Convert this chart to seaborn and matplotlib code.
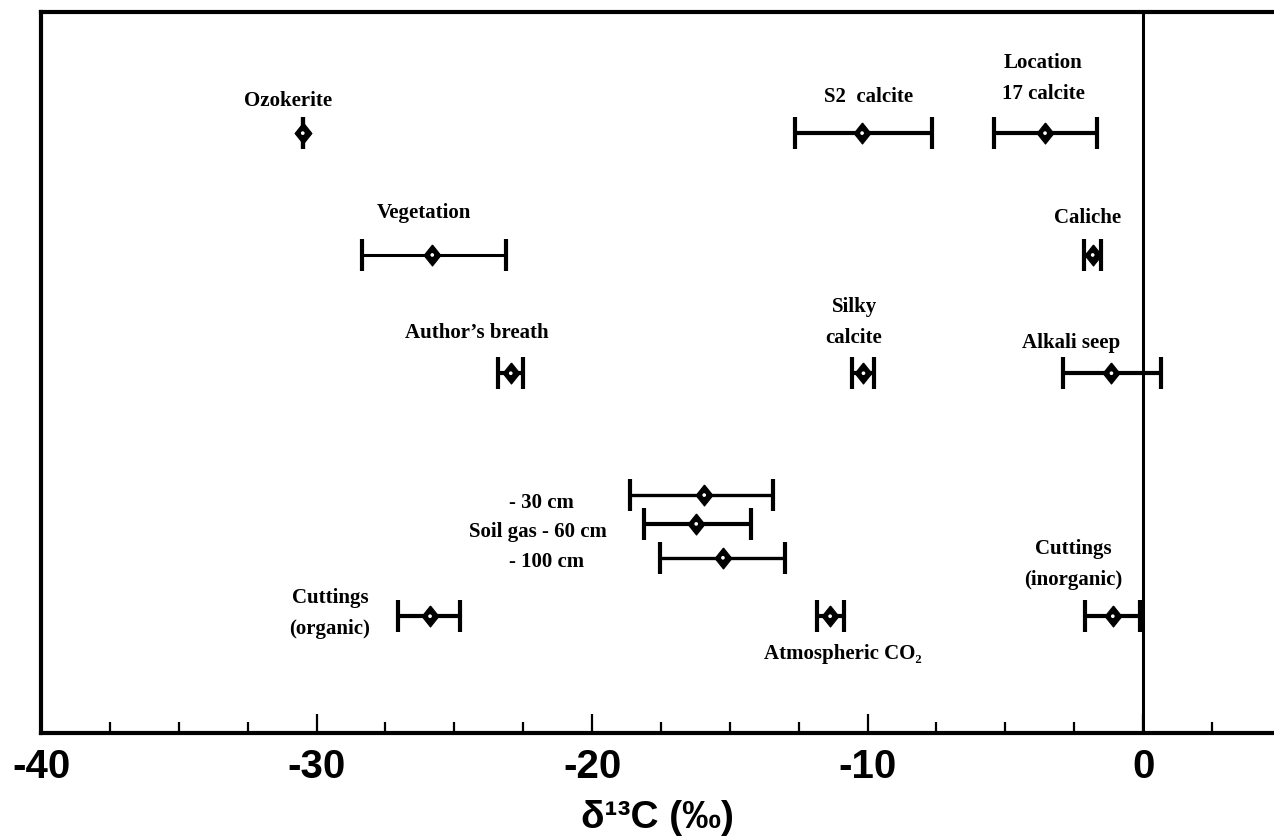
import numpy as np
import pandas as pd
import matplotlib
matplotlib.use("Agg")
import matplotlib.pyplot as plt
import seaborn as sns

# ---- data ----
samples = ["Ozokerite", "S2 calcite", "Location 17 calcite", "Vegetation", "Caliche",
           "Author's breath", "Silky calcite", "Alkali seep", "Soil gas 30 cm",
           "Soil gas 60 cm", "Soil gas 100 cm", "Cuttings (organic)", "Atmospheric CO2",
           "Cuttings (inorganic)"]
d13c_mean = [-30.5, -10.2, -3.56, -25.8, -1.83, -22.95, -10.15, -1.15, -15.93, -16.22,
             -15.25, -25.88, -11.36, -1.1]
d13c_low = [-30.5, -12.65, -5.42, -28.35, -2.14, -23.42, -10.55, -2.91, -18.62, -18.13,
            -17.53, -27.04, -11.85, -2.12]
d13c_high = [-30.5, -7.68, -1.68, -23.14, -1.52, -22.5, -9.75, 0.64, -13.43, -14.24,
             -13.0, -24.8, -10.85, -0.12]
row_level = [8.32, 8.32, 8.32, 6.63, 6.63, 4.99, 4.99, 4.99, 3.30, 2.90, 2.43, 1.62, 1.62, 1.62]

label_texts = ["Ozokerite", "S2  calcite", "Location\n17 calcite", "Vegetation", "Caliche",
               "Author\u2019s breath", "Silky\ncalcite", "Alkali seep", "- 30 cm",
               "Soil gas - 60 cm", "- 100 cm", "Cuttings\n(organic)", "Atmospheric CO\u2082",
               "Cuttings\n(inorganic)"]

x_ticks_major = [-40, -30, -20, -10, 0]
x_tick_labels = ["-40", "-30", "-20", "-10", "0"]

# ---- label placement (layout, not data) ----
label_x = [-31.03, -9.98, -3.63, -26.1, -2.0, -24.17, -10.49, -2.61, -23.01, -19.46,
           -23.01, -29.51, -10.89, -2.54]
label_y = [8.77, 8.82, 9.08, 7.21, 7.14, 5.55, 5.69, 5.41, 3.19, 2.79, 2.37, 1.66, 1.10, 2.34]
label_ha = ["center"] * 8 + ["left", "right", "left"] + ["center"] * 3
bar_lw = [3, 3, 3, 2.2, 3, 3, 3, 3, 2.4, 3, 2.4, 3, 3, 3]

df = pd.DataFrame({"sample": samples, "mean": d13c_mean, "low": d13c_low,
                   "high": d13c_high, "row": row_level})

sns.set_theme(style="white")
plt.rcParams["font.family"] = ["Liberation Sans", "DejaVu Sans"]

fig = plt.figure(figsize=(12.74, 8.39), dpi=100)
ax = fig.add_axes([41 / 1274, (839 - 733) / 839, (1274 - 41) / 1274, (733 - 12) / 839])

# vertical zero line
ax.axvline(0, color="black", lw=2.2, zorder=1)

# error bars
for i, r in df.iterrows():
    ax.errorbar(r["mean"], r["row"],
                xerr=[[r["mean"] - r["low"]], [r["high"] - r["mean"]]],
                fmt="none", ecolor="black", elinewidth=bar_lw[i],
                capsize=11.5, capthick=3, zorder=2)

# diamonds: black body with a small white centre
diamond = [(0, 1), (0.8, 0), (0, -1), (-0.8, 0), (0, 1)]
sns.scatterplot(data=df, x="mean", y="row", marker=diamond, s=230, color="black",
                edgecolor="black", linewidth=0.8, zorder=3, ax=ax, legend=False)
sns.scatterplot(data=df, x="mean", y="row", marker="o", s=7, color="white",
                edgecolor="none", linewidth=0, zorder=4, ax=ax, legend=False)

# labels
for t, lx, ly, ha in zip(label_texts, label_x, label_y, label_ha):
    ax.text(lx, ly, t, ha=ha, va="center", fontsize=15, fontweight="bold",
            family=["Liberation Serif", "DejaVu Serif"], linespacing=1.75, color="black")

ax.set_xlim(-40, 4.75)
ax.set_ylim(0, 10)
ax.set_xticks(x_ticks_major)
ax.set_xticklabels(x_tick_labels)
ax.set_xticks(np.arange(-37.5, 4.0, 2.5), minor=True)
ax.set_yticks([])
ax.tick_params(axis="x", which="major", direction="in", length=14, width=1.6,
               labelsize=29, pad=11, color="black", labelcolor="black", bottom=True)
ax.tick_params(axis="x", which="minor", direction="in", length=8, width=1.6,
               color="black", bottom=True)
for lab in ax.get_xticklabels():
    lab.set_fontweight("bold")

ax.set_xlabel("\u03b4\u00b9\u00b3C (\u2030)", fontsize=28, fontweight="bold",
              labelpad=10, color="black")
ax.set_ylabel("")

for side in ["left", "top", "bottom"]:
    ax.spines[side].set_visible(True)
    ax.spines[side].set_color("black")
    ax.spines[side].set_linewidth(3)
ax.spines["right"].set_visible(False)

fig.savefig("out.png", dpi=100, facecolor="white")
